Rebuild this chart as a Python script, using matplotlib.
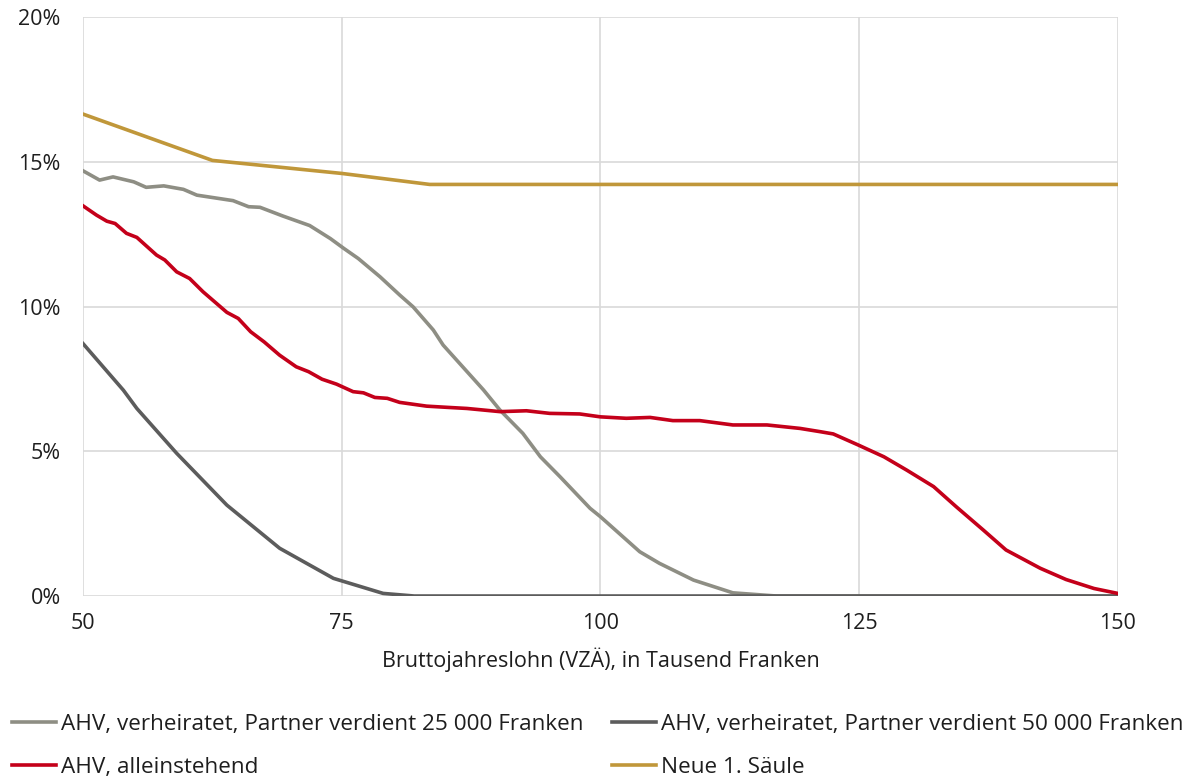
import matplotlib
matplotlib.use("Agg")
import matplotlib.pyplot as plt
from matplotlib.ticker import FuncFormatter

plt.rcParams['font.family'] = ['Open Sans', 'DejaVu Sans']

# Bruttojahreslohn in Tausend Franken / Anteil in %
x_25k = [50, 51.6, 52.9, 54.9, 56.1, 57.8, 59.7, 61.0, 64.5, 66.0, 67.1, 69.3, 71.9,
         73.9, 75.2, 76.6, 78.7, 80.6, 81.9, 83.85, 84.8, 88.7, 90.3, 92.5, 94.2,
         96.1, 99.0, 100.0, 103.8, 105.7, 109.0, 112.8, 117, 150]
y_25k = [14.69, 14.37, 14.48, 14.31, 14.12, 14.17, 14.05, 13.85, 13.66, 13.45, 13.43,
         13.13, 12.8, 12.35, 12.01, 11.66, 11.03, 10.4, 9.99, 9.19, 8.67, 7.12, 6.42,
         5.62, 4.81, 4.12, 3.03, 2.74, 1.53, 1.13, 0.55, 0.11, 0.0, 0.0]

x_50k = [50, 53.9, 55.2, 59.05, 63.9, 69.0, 74.2, 79.0, 82, 150]
y_50k = [8.72, 7.11, 6.48, 4.93, 3.14, 1.65, 0.61, 0.09, 0.0, 0.0]

x_single = [50, 51.3, 52.3, 53.1, 54.2, 55.2, 57.1, 57.9, 59.05, 60.3, 61.6, 63.9, 65.0,
            66.2, 67.5, 69.0, 70.6, 71.8, 73.1, 74.5, 76.1, 77.1, 78.2, 79.4, 80.6,
            83.2, 85.1, 87.1, 90.3, 92.85, 95.1, 98.0, 100, 102.5, 104.8, 107.0, 109.6,
            112.8, 116.1, 119.3, 121.2, 122.5, 124.9, 127.4, 129.6, 132.2, 134.4, 137.0,
            139.2, 142.5, 145.0, 147.7, 150]
y_single = [13.48, 13.16, 12.95, 12.87, 12.53, 12.39, 11.78, 11.61, 11.2, 10.97, 10.51,
            9.8, 9.59, 9.13, 8.78, 8.32, 7.92, 7.75, 7.49, 7.32, 7.06, 7.02, 6.86, 6.83,
            6.69, 6.56, 6.52, 6.48, 6.37, 6.40, 6.31, 6.29, 6.19, 6.14, 6.17, 6.06, 6.06,
            5.91, 5.91, 5.79, 5.68, 5.6, 5.22, 4.81, 4.35, 3.78, 3.08, 2.28, 1.59, 0.96,
            0.57, 0.26, 0.09]

x_neu = [50, 62.5, 75, 83.5, 150]
y_neu = [16.65, 15.05, 14.6, 14.22, 14.22]

labels = ["AHV, verheiratet, Partner verdient 25 000 Franken",
          "AHV, verheiratet, Partner verdient 50 000 Franken",
          "AHV, alleinstehend",
          "Neue 1. Säule"]
colors = ["#8e8e84", "#5c5c5c", "#c4001a", "#c0973a"]
txt = "#1e1e1e"
fs = 15.5

fig = plt.figure(figsize=(11.88, 7.79), dpi=100)
ax = fig.add_axes([0.0699, 0.2349, 0.871, 0.7431])

lw = 2.6
l1, = ax.plot(x_25k, y_25k, color=colors[0], lw=lw, label=labels[0])
l2, = ax.plot(x_50k, y_50k, color=colors[1], lw=lw, label=labels[1])
l3, = ax.plot(x_single, y_single, color=colors[2], lw=lw, label=labels[2])
l4, = ax.plot(x_neu, y_neu, color=colors[3], lw=lw, label=labels[3])

ax.set_xlim(50, 150)
ax.set_ylim(0, 20)
ax.set_xticks([50, 75, 100, 125, 150])
ax.set_yticks([0, 5, 10, 15, 20])
ax.yaxis.set_major_formatter(FuncFormatter(lambda v, p: f"{v:.0f}%"))
ax.grid(True, color="#d9d9d9", lw=1.2)
ax.set_axisbelow(True)
for s in ax.spines.values():
    s.set_visible(False)
ax.tick_params(length=0, labelsize=fs, colors=txt)
ax.tick_params(axis='x', pad=12)
ax.tick_params(axis='y', pad=16)
ax.set_xlabel("Bruttojahreslohn (VZÄ), in Tausend Franken", fontsize=fs,
              color=txt, labelpad=10)

fig.legend([l1, l3, l2, l4], [labels[0], labels[2], labels[1], labels[3]],
           ncol=2, loc="upper left", bbox_to_anchor=(0.010, 0.083), frameon=False,
           fontsize=16.2, handlelength=1.95, handletextpad=0.22, columnspacing=1.3,
           labelspacing=0.95, borderaxespad=0.0, borderpad=0.0, labelcolor=txt)

fig.savefig("out.png", dpi=100)
